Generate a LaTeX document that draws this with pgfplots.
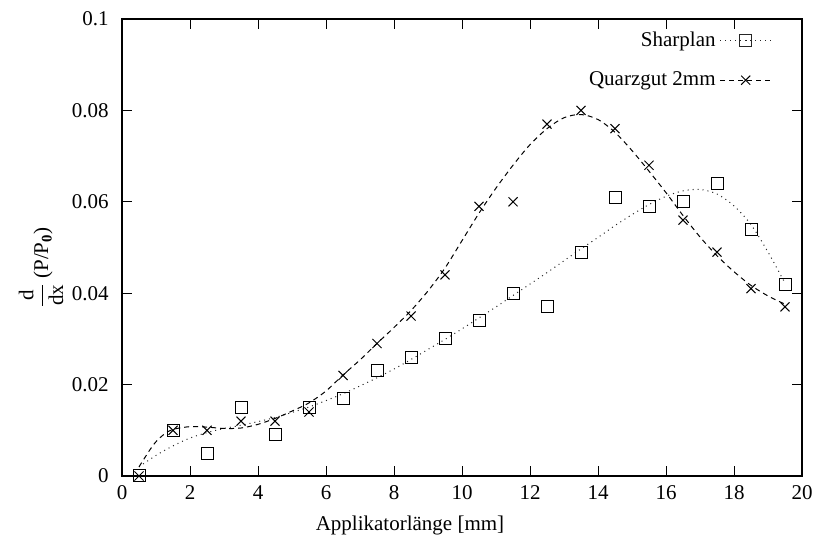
\documentclass[border=0pt]{standalone}
\usepackage{pgfplots}
\pgfplotsset{compat=1.18}
\usepackage{pgfplotstable}
\usepackage{amsmath}
\usepackage{fontspec}
\setmainfont{Liberation Serif}

% measured points
\pgfplotstableread{
x y
0.5 0
1.5 0.010
2.5 0.005
3.5 0.015
4.5 0.009
5.5 0.015
6.5 0.017
7.5 0.023
8.5 0.026
9.5 0.030
10.5 0.034
11.5 0.040
12.5 0.037
13.5 0.049
14.5 0.061
15.5 0.059
16.5 0.060
17.5 0.064
18.5 0.054
19.5 0.042
}\sharplan

\pgfplotstableread{
x y
0.5 0
1.5 0.010
2.5 0.010
3.5 0.012
4.5 0.012
5.5 0.014
6.5 0.022
7.5 0.029
8.5 0.035
9.5 0.044
10.5 0.059
11.5 0.060
12.5 0.077
13.5 0.080
14.5 0.076
15.5 0.068
16.5 0.056
17.5 0.049
18.5 0.041
19.5 0.037
}\quarz

% fitted curves
\pgfplotstableread{
x y
0.5 0.002
1.0 0.0045
1.5 0.0066
2.0 0.0083
2.5 0.0095
3.0 0.0104
3.5 0.0111
4.0 0.0119
4.5 0.0128
5.0 0.0139
5.5 0.0151
6.0 0.0165
6.5 0.0180
7.0 0.0197
7.5 0.0215
8.0 0.0234
8.5 0.0255
9.0 0.0277
9.5 0.0299
10.0 0.0322
10.5 0.0346
11.0 0.0370
11.5 0.0395
12.0 0.0420
12.5 0.0445
13.0 0.0471
13.5 0.0497
14.0 0.0522
14.5 0.0548
15.0 0.0572
15.5 0.0594
16.0 0.0612
16.5 0.0624
17.0 0.0627
17.5 0.0617
18.0 0.0591
18.5 0.0550
19.0 0.0490
19.5 0.0422
}\sharpfit

\pgfplotstableread{
x y
0.5 0.002
0.8 0.0055
1.0 0.0075
1.25 0.0092
1.5 0.0102
2.0 0.0108
2.5 0.0107
3.0 0.0104
3.5 0.0105
4.0 0.0113
4.5 0.0126
5.0 0.0142
5.5 0.0160
6.0 0.0186
6.5 0.0221
7.0 0.0254
7.5 0.0290
8.0 0.0325
8.5 0.0362
9.0 0.0405
9.5 0.0455
10.0 0.0515
10.5 0.0575
11.0 0.0630
11.5 0.0680
12.0 0.0725
12.5 0.0760
13.0 0.0784
13.5 0.0791
14.0 0.0780
14.5 0.0752
15.0 0.0712
15.5 0.0667
16.0 0.0620
16.5 0.0570
17.0 0.0523
17.5 0.0482
18.0 0.0447
18.5 0.0417
19.0 0.0394
19.5 0.0376
}\quarzfit

\begin{document}
\fontsize{10.5}{12.5}\selectfont
\begin{tikzpicture}
\begin{axis}[
    scale only axis,
    width=340pt, height=228.5pt,
    xmin=0, xmax=20, ymin=0, ymax=0.1,
    xtick={0,2,...,20},
    xticklabels={0,2,4,6,8,10,12,14,16,18,20},
    ytick={0,0.02,0.04,0.06,0.08,0.1},
    yticklabels={0,0.02,0.04,0.06,0.08,0.1},
    tick align=inside, tick pos=both,
    major tick length=5pt,
    tick style={black, line width=0.5pt},
    axis line style={line width=0.6pt},
    xlabel={Applikatorlänge [mm]},
    ylabel={$\dfrac{\text{d}}{\text{dx}}$\,(P/P\textsubscript{\textbf{0}})},
    xlabel style={yshift=-1pt, xshift=-26pt},
    ylabel style={yshift=-3pt, xshift=-10pt},
    xticklabel style={yshift=-1pt},
    yticklabel style={xshift=-3pt},
    legend plot pos=right,
    legend cell align=right,
    legend style={draw=none, fill=none, at={(0.965,0.99)}, anchor=north east,
        row sep=7pt, font=\fontsize{10.5}{12.5}\selectfont},
    legend image code/.code={\draw[mark repeat=2, mark phase=2]
        plot coordinates {(0cm,0cm) (0.45cm,0cm) (0.9cm,0cm)};},
]
\addplot[black!85, dotted, line width=0.5pt, smooth, forget plot] table {\sharpfit};
\addplot[black, dashed, dash pattern=on 2.5pt off 2pt, line width=0.5pt, smooth, forget plot] table {\quarzfit};
\addplot[only marks, mark=square, mark size=3pt, black, mark options={line width=0.5pt}, forget plot] table {\sharplan};
\addplot[only marks, mark=x, mark size=3.2pt, black, mark options={line width=0.5pt}, forget plot] table {\quarz};
\addlegendimage{black!85, dotted, line width=0.5pt, mark=square, mark size=3pt, mark options={solid}}
\addlegendentry{Sharplan}
\addlegendimage{black, dash pattern=on 2.5pt off 2pt, line width=0.5pt, mark=x, mark size=3.2pt, mark options={solid}}
\addlegendentry{Quarzgut 2mm}
\end{axis}
\pgfresetboundingbox
\useasboundingbox (-61pt,-34.5pt) rectangle (348pt,238pt);
\end{tikzpicture}
\end{document}
